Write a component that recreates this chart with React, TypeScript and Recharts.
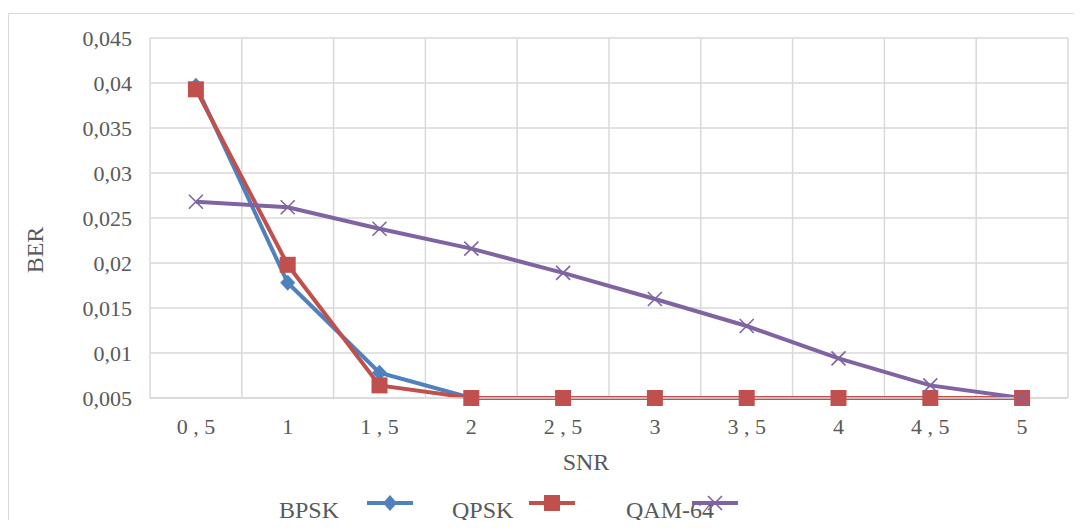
import React from "react"
import { LineChart, Line, XAxis, YAxis, CartesianGrid, Legend, Label } from "recharts"

const snr = ["0 , 5", "1", "1 , 5", "2", "2 , 5", "3", "3 , 5", "4", "4 , 5", "5"]
const bpsk = [0.0397, 0.0178, 0.0078, 0.005, 0.005, 0.005, 0.005, 0.005, 0.005, 0.005]
const qpsk = [0.0393, 0.0198, 0.0064, 0.005, 0.005, 0.005, 0.005, 0.005, 0.005, 0.005]
const qam64 = [0.0268, 0.0262, 0.0238, 0.0216, 0.0189, 0.016, 0.013, 0.0094, 0.0064, 0.005]
const yTicks = [0.005, 0.01, 0.015, 0.02, 0.025, 0.03, 0.035, 0.04, 0.045]

const data = snr.map((s, i) => ({ snr: s, BPSK: bpsk[i], QPSK: qpsk[i], QAM: qam64[i] }))

const BLUE = "#4F81BD"
const RED = "#C0504D"
const PURPLE = "#8064A2"
const GRID = "#d9d9d9"
const TEXT = "#595959"
const FONT = "Liberation Serif, Times New Roman, serif"

const CHART_W = 1074
const MARGIN_R = 14
const Y_W = 142
// half a category band on each side so points sit between gridlines
const BAND_PAD = (CHART_W - MARGIN_R - Y_W) / snr.length / 2

const Diamond = (p: any) => {
  const { cx, cy, index } = p
  return (
    <path
      key={`bp-${index}`}
      d={`M${cx} ${cy - 8}L${cx + 7.5} ${cy}L${cx} ${cy + 8}L${cx - 7.5} ${cy}Z`}
      fill={BLUE}
    />
  )
}

const Square = (p: any) => {
  const { cx, cy, index } = p
  return <rect key={`qp-${index}`} x={cx - 8} y={cy - 8} width={16} height={16} fill={RED} />
}

const Cross = (p: any) => {
  const { cx, cy, index } = p
  return (
    <path
      key={`qm-${index}`}
      d={`M${cx - 7} ${cy - 7}L${cx + 7} ${cy + 7}M${cx - 7} ${cy + 7}L${cx + 7} ${cy - 7}`}
      stroke={PURPLE}
      strokeWidth={1.6}
      fill="none"
    />
  )
}

const legendItems = [
  { name: "BPSK", color: BLUE, textX: 271, iconX: 359, mark: "diamond" },
  { name: "QPSK", color: RED, textX: 444, iconX: 521, mark: "square" },
  { name: "QAM-64", color: PURPLE, textX: 618, iconX: 684, mark: "cross" },
]

const renderLegend = () => (
  <div style={{ position: "relative", height: 40, width: "100%" }}>
    {legendItems.map((it) => (
      <React.Fragment key={it.name}>
        <span
          style={{
            position: "absolute",
            left: it.textX,
            top: 17,
            fontFamily: FONT,
            fontSize: 24,
            color: TEXT,
            lineHeight: "27px",
            whiteSpace: "nowrap",
          }}
        >
          {it.name}
        </span>
        <svg
          width={46}
          height={20}
          style={{ position: "absolute", left: it.iconX, top: 13, overflow: "visible" }}
        >
          <line x1={0} y1={10} x2={46} y2={10} stroke={it.color} strokeWidth={4} />
          {it.mark === "diamond" && <path d="M23 2L30 10L23 18L16 10Z" fill={it.color} />}
          {it.mark === "square" && <rect x={15} y={2} width={16} height={16} fill={it.color} />}
          {it.mark === "cross" && (
            <path d="M16 3L30 17M16 17L30 3" stroke={it.color} strokeWidth={1.6} />
          )}
        </svg>
      </React.Fragment>
    ))}
  </div>
)

const App = () => {
  return (
    <div
      style={{ position: "relative", width: CHART_W, height: 520, overflow: "hidden", marginBottom: -8 }}
    >
      <div
        style={{
          position: "absolute",
          left: 0,
          top: 5,
          width: 1200,
          height: 1200,
          borderLeft: `1px solid ${GRID}`,
          borderTop: `1px solid ${GRID}`,
        }}
      />
      <LineChart
        width={CHART_W}
        height={512}
        data={data}
        margin={{ top: 30, right: MARGIN_R, bottom: 0, left: 0 }}
        style={{ position: "absolute", left: 0, top: 0 }}
      >
        <CartesianGrid
          stroke={GRID}
          strokeWidth={1.5}
          verticalCoordinatesGenerator={({ offset }: any) =>
            Array.from({ length: snr.length + 1 }, (_, i) => offset.left + (i * offset.width) / snr.length)
          }
        />
        <XAxis
          dataKey="snr"
          height={82}
          padding={{ left: BAND_PAD, right: BAND_PAD }}
          tickLine={false}
          tickSize={0}
          tickMargin={20}
          axisLine={{ stroke: GRID, strokeWidth: 1.5 }}
          tick={{ fill: TEXT, fontSize: 22, fontFamily: FONT }}
          interval={0}
        >
          <Label
            content={({ viewBox }: any) => (
              <text
                x={viewBox.x + 436}
                y={viewBox.y + 72}
                textAnchor="middle"
                fill={TEXT}
                fontSize={24}
                fontFamily={FONT}
              >
                SNR
              </text>
            )}
          />
        </XAxis>
        <YAxis
          width={Y_W}
          domain={[0.005, 0.045]}
          ticks={yTicks}
          tickLine={false}
          axisLine={false}
          tickSize={6}
          tickMargin={12}
          tick={{ fill: TEXT, fontSize: 22, fontFamily: FONT }}
          tickFormatter={(v: number) => String(v).replace(".", ",")}
        >
          <Label
            content={({ viewBox }: any) => (
              <text
                x={viewBox.x + 27}
                y={viewBox.y + 212}
                transform={`rotate(-90, ${viewBox.x + 27}, ${viewBox.y + 212})`}
                textAnchor="middle"
                dominantBaseline="central"
                fill={TEXT}
                fontSize={24}
                fontFamily={FONT}
              >
                BER
              </text>
            )}
          />
        </YAxis>
        <Legend content={renderLegend} verticalAlign="bottom" height={40} />
        <Line dataKey="BPSK" stroke={BLUE} strokeWidth={4} dot={Diamond} isAnimationActive={false} />
        <Line dataKey="QPSK" stroke={RED} strokeWidth={4} dot={Square} isAnimationActive={false} />
        <Line dataKey="QAM" stroke={PURPLE} strokeWidth={4} dot={Cross} isAnimationActive={false} />
      </LineChart>
    </div>
  )
}

export default App
